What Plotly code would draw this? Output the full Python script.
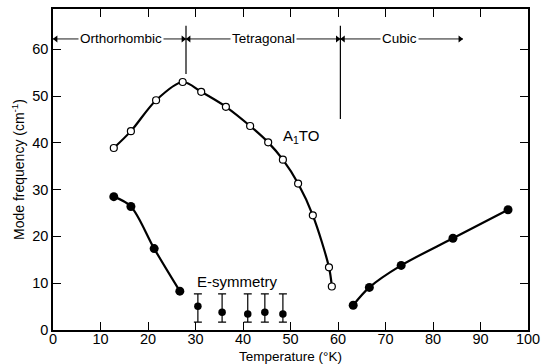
import plotly.graph_objects as go

# A1 TO soft mode (open circles)
a1_temp = [12.8, 16.4, 21.7, 27.3, 31.2, 36.4, 41.5, 45.3, 48.4, 51.6, 54.7, 58.1, 58.7]
a1_freq = [38.9, 42.5, 49.1, 53.0, 50.9, 47.7, 43.6, 40.1, 36.4, 31.3, 24.5, 13.4, 9.3]

# E-symmetry mode, orthorhombic phase (filled circles)
e_temp = [12.8, 16.4, 21.3, 26.7]
e_freq = [28.5, 26.4, 17.4, 8.3]

# E-symmetry mode, tetragonal phase with error bars
et_temp = [30.5, 35.6, 41.0, 44.6, 48.4]
et_freq = [5.1, 3.8, 3.4, 3.8, 3.4]
et_hi = [7.7, 7.7, 7.7, 7.7, 7.7]
et_lo = [1.7, 1.7, 1.7, 1.7, 1.7]

# Cubic phase mode (filled circles)
c_temp = [63.2, 66.6, 73.3, 84.2, 95.8]
c_freq = [5.3, 9.1, 13.8, 19.6, 25.7]

# Phase boundaries and labels
transitions = [28.0, 60.5]
transition_bottoms = [54.7, 45.1]
phases = ["Orthorhombic", "Tetragonal", "Cubic"]
phase_spans = [(0, 28.0), (28.0, 60.5), (60.5, 86.3)]
phase_centers = [14.3, 44.4, 73.0]

x_ticks = [0, 10, 20, 30, 40, 50, 60, 70, 80, 90, 100]
y_ticks = [0, 10, 20, 30, 40, 50, 60]

FONT = "Liberation Sans, Arial, sans-serif"
fig = go.Figure()

line_style = dict(color="black", width=2.2, shape="spline", smoothing=0.9)

fig.add_trace(go.Scatter(x=a1_temp, y=a1_freq, mode="lines+markers", line=line_style,
                         marker=dict(symbol="circle", size=7, color="white",
                                     line=dict(color="black", width=1.2))))
fig.add_trace(go.Scatter(x=e_temp, y=e_freq, mode="lines+markers", line=line_style,
                         marker=dict(symbol="circle", size=9, color="black")))
fig.add_trace(go.Scatter(x=c_temp, y=c_freq, mode="lines+markers", line=line_style,
                         marker=dict(symbol="circle", size=9, color="black")))
fig.add_trace(go.Scatter(
    x=et_temp, y=et_freq, mode="markers",
    marker=dict(symbol="circle", size=7.5, color="black"),
    error_y=dict(type="data", symmetric=False,
                 array=[h - v for h, v in zip(et_hi, et_freq)],
                 arrayminus=[v - l for l, v in zip(et_lo, et_freq)],
                 color="black", thickness=1.2, width=4)))

shapes = []
for t, bot in zip(transitions, transition_bottoms):
    shapes.append(dict(type="line", xref="x", yref="y", x0=t, x1=t, y0=bot, y1=65,
                       line=dict(color="black", width=1.2)))

# Double-headed phase-range arrows: thin lines plus triangular heads
arrow_y = 62.2
head_x, head_y, head_sym = [], [], []
for x0, x1 in phase_spans:
    shapes.append(dict(type="line", xref="x", yref="y", x0=x0, x1=x1, y0=arrow_y, y1=arrow_y,
                       line=dict(color="black", width=0.9)))
    head_x += [x0 + 0.6, x1 - 0.6]
    head_y += [arrow_y, arrow_y]
    head_sym += ["triangle-left", "triangle-right"]
fig.add_trace(go.Scatter(x=head_x, y=head_y, mode="markers",
                         marker=dict(symbol=head_sym, size=6, color="black", line=dict(width=0))))

annotations = []
for cx, name in zip(phase_centers, phases):
    annotations.append(dict(x=cx, y=arrow_y, xref="x", yref="y", text=name, showarrow=False,
                            bgcolor="white", borderpad=1,
                            font=dict(family=FONT, size=13.5, color="black")))

annotations.append(dict(x=47.9, y=41.3, xref="x", yref="y", text="A<sub>1</sub>TO",
                        showarrow=False, xanchor="left",
                        font=dict(family=FONT, size=15, color="black")))
annotations.append(dict(x=38.7, y=10.3, xref="x", yref="y", text="E-symmetry",
                        showarrow=False, font=dict(family=FONT, size=15, color="black")))

# x-axis title placed just under the tick labels
annotations.append(dict(x=0.5, y=0, xref="paper", yref="paper", text="Temperature (°K)",
                        showarrow=False, yanchor="middle", yshift=-26, borderpad=0,
                        font=dict(family=FONT, size=13.5, color="black")))

axis_common = dict(showline=True, linecolor="black", linewidth=1.5, mirror="ticks",
                   ticks="inside", ticklen=8, tickcolor="black", tickwidth=1,
                   showgrid=False, zeroline=False, automargin=False,
                   tickfont=dict(family=FONT, size=14.5, color="black"))

fig.update_layout(
    width=541, height=364,
    margin=dict(l=53, r=13, t=9, b=34),
    paper_bgcolor="white", plot_bgcolor="white",
    showlegend=False,
    shapes=shapes, annotations=annotations,
    xaxis=dict(range=[0, 100], tickvals=x_ticks, ticktext=[str(v) for v in x_ticks],
               ticklabelstandoff=-5,
               **axis_common),
    yaxis=dict(range=[0, 68.6], tickvals=y_ticks, ticktext=[str(v) for v in y_ticks],
               title=dict(text="Mode frequency (cm<sup>-1</sup>)", standoff=4,
                          font=dict(family=FONT, size=14, color="black")),
               **axis_common),
)

fig.write_html("out.html")
